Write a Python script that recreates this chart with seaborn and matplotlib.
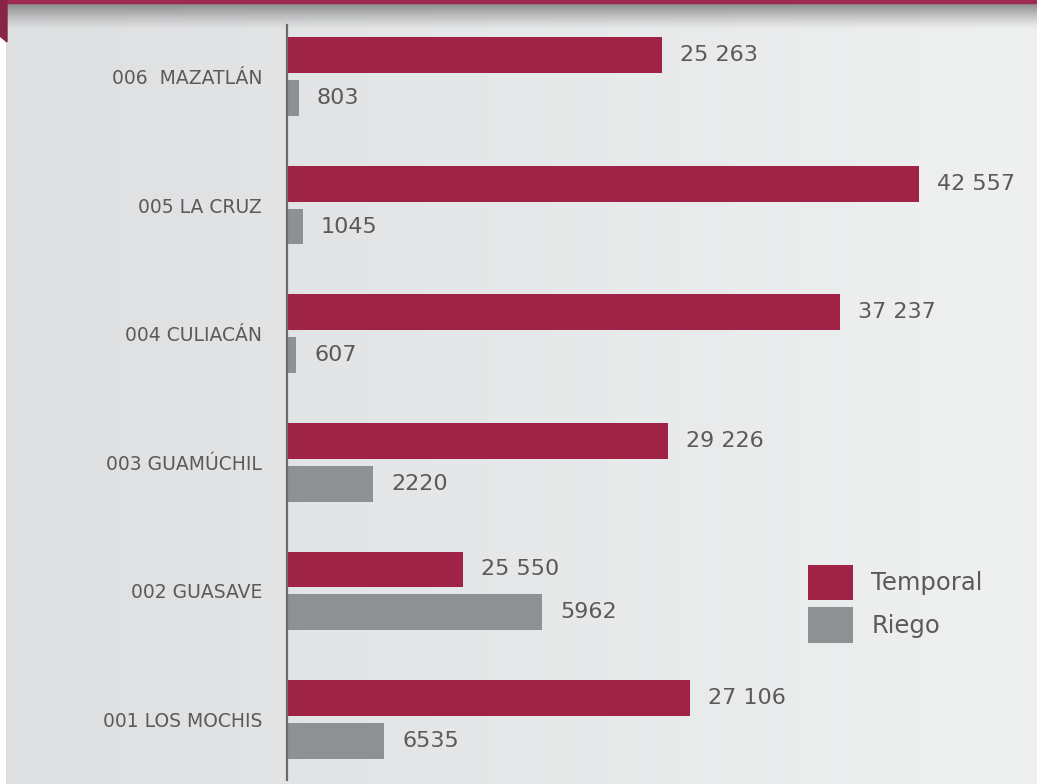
import numpy as np
import pandas as pd
import matplotlib
matplotlib.use("Agg")
import matplotlib.pyplot as plt
from matplotlib.patches import Polygon
import seaborn as sns

# ── data ─────────────────────────────────────────────
regiones = ["006  MAZATLÁN", "005 LA CRUZ", "004 CULIACÁN",
            "003 GUAMÚCHIL", "002 GUASAVE", "001 LOS MOCHIS"]
tipos = ["Temporal", "Riego"]

# values printed next to each bar
temporal = [25263, 42557, 37237, 29226, 25550, 27106]
riego = [803, 1045, 607, 2220, 5962, 6535]

# bar lengths as drawn in the original (some bars do not match their label)
temporal_barra = [25263, 42557, 37237, 25650, 11850, 27106]
riego_barra = [803, 1045, 607, 5790, 17170, 6535]

colores = {"Temporal": "#9f2346", "Riego": "#8d9194"}
gris_txt = "#5a5a5a"

df = pd.DataFrame({
    "region": regiones * 2,
    "valor": temporal_barra + riego_barra,
    "tipo": ["Temporal"] * len(regiones) + ["Riego"] * len(regiones),
})


def fmt(v):
    # miles con espacio solo a partir de 5 cifras
    return f"{v:,}".replace(",", " ") if v >= 10000 else str(v)


sns.set_style("white")
plt.rcParams["font.family"] = ["DejaVu Sans"]

W, H = 1037, 784
fig = plt.figure(figsize=(W / 100, H / 100), dpi=100)
fig.patch.set_facecolor("white")

# ── background panel (gradient + top shadow) ─────────
bg = fig.add_axes([0, 0, 1, 1], zorder=0)
bg.set_xlim(0, W); bg.set_ylim(H, 0); bg.axis("off")
c_left = np.array([0.871, 0.875, 0.882])
c_right = np.array([0.937, 0.941, 0.941])
t = np.linspace(0, 1, 256)
grad = c_left[None, :] * (1 - t[:, None]) + c_right[None, :] * t[:, None]
grad = np.repeat(grad[None, :, :], 2, axis=0)
bg.imshow(grad, extent=[6, W, H, 0], aspect="auto", zorder=0)
# top shadow
sh = np.linspace(0, 1, 64)[:, None]
alpha = np.clip(1 - sh, 0, 1) ** 1.3
shade = np.zeros((64, 2, 4))
shade[..., :3] = 0.52
shade[..., 3] = alpha
bg.imshow(shade, extent=[6, W, 30, 2], aspect="auto", zorder=1)
bg.add_patch(Polygon([[0, 0], [W, 0], [W, 3], [0, 3]], closed=True,
                     color="#9e2a4f", zorder=2))
bg.add_patch(Polygon([[0, 0], [7, 0], [7, 42], [0, 36]], closed=True,
                     color="#8a2444", zorder=2))

# ── bars ─────────────────────────────────────────────
x0 = 287
ax = fig.add_axes([x0 / W, 0, 1 - x0 / W, 1], zorder=1)
ax.set_facecolor("none")
sns.barplot(data=df, y="region", x="valor", hue="tipo", orient="h",
            order=regiones, hue_order=tipos, palette=colores,
            width=0.667, gap=0.163, saturation=1, linewidth=0, ax=ax)

px_per_unit = 632 / 42557
ax.set_xlim(0, (W - x0) / px_per_unit)
pitch = (719.5 - 76.5) / 5
ax.set_ylim((H - 76.5) / pitch, -76.5 / pitch)

for cont, vals in zip(ax.containers, [temporal, riego]):
    ax.bar_label(cont, labels=[fmt(v) for v in vals], padding=13,
                 fontsize=16, color=gris_txt)

for s in ["top", "right", "bottom"]:
    ax.spines[s].set_visible(False)
ax.spines["left"].set_color("#6a6a6a")
ax.spines["left"].set_linewidth(1.6)
ax.spines["left"].set_bounds((25 - 76.5) / pitch, (780 - 76.5) / pitch)
ax.set_xticks([])
ax.set_xlabel(""); ax.set_ylabel("")
ax.tick_params(axis="y", length=0, pad=18, labelsize=13.5, labelcolor=gris_txt)

handles, labels = ax.get_legend_handles_labels()
ax.get_legend().remove()
ax.legend(handles, labels, loc="upper left",
          bbox_to_anchor=(808 / W, 1 - 565 / H), bbox_transform=fig.transFigure,
          frameon=False, fontsize=17.5, labelcolor=gris_txt,
          handlelength=1.85, handleheight=1.85, handletextpad=0.75,
          labelspacing=0.3, borderpad=0, borderaxespad=0)

fig.savefig("out.png", dpi=100)
